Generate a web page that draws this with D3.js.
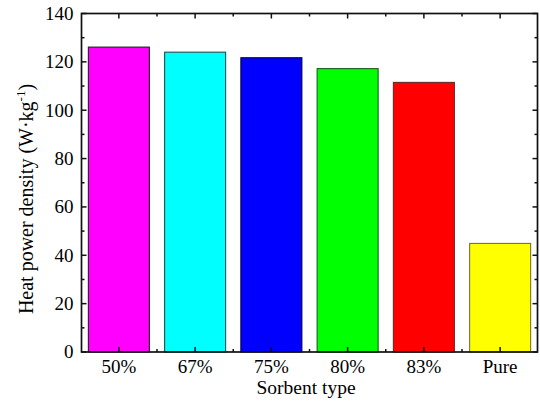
<!DOCTYPE html>
<html>
<head>
<meta charset="utf-8">
<script src="https://cdn.jsdelivr.net/npm/d3@7"></script>
<style>
  body { margin: 0; background: #fff; }
  text { font-family: "Liberation Serif", "Times New Roman", serif; fill: #000; }
</style>
</head>
<body>
<svg id="chart" width="540" height="407"></svg>
<script>
// data
const categories = ["50%", "67%", "75%", "80%", "83%", "Pure"];
const powerDensity = [126.1, 124.0, 121.7, 117.2, 111.5, 44.9];
const yTicks = [0, 20, 40, 60, 80, 100, 120, 140];
const yMinorTicks = [10, 30, 50, 70, 90, 110, 130];

const fillColors = ["#ff00ff", "#00ffff", "#0000ff", "#00ff00", "#ff0000", "#ffff00"];
const strokeColors = ["#202020", "#1f4f4f", "#000040", "#1f5a1f", "#6a2a2a", "#77772a"];

const svg = d3.select("#chart");
const plotLeft = 81.5, plotRight = 537.5, plotTop = 13.5, plotBottom = 352;

const x = d3.scaleBand()
    .domain(categories)
    .range([plotLeft, plotRight])
    .paddingInner(0.2)
    .paddingOuter(0.09);

const y = d3.scaleLinear()
    .domain([0, 140])
    .range([plotBottom, plotTop]);

// bars
svg.append("g").selectAll("rect")
    .data(categories)
    .enter().append("rect")
    .attr("x", d => x(d))
    .attr("width", x.bandwidth())
    .attr("y", (d, i) => y(powerDensity[i]))
    .attr("height", (d, i) => y(0) - y(powerDensity[i]))
    .attr("fill", (d, i) => fillColors[i])
    .attr("stroke", (d, i) => strokeColors[i])
    .attr("stroke-width", 1.1);

// x minor tick positions: boundaries between bands
const step = x.step();
const xMinor = categories.slice(1).map(d => x(d) - (step - x.bandwidth()) / 2);

const axisG = svg.append("g").attr("stroke", "#111").attr("stroke-width", 1.5).attr("fill", "none");

// y ticks (left and right, pointing inward)
yTicks.forEach(t => {
    axisG.append("line").attr("x1", plotLeft).attr("x2", plotLeft + 5).attr("y1", y(t)).attr("y2", y(t));
    axisG.append("line").attr("x1", plotRight).attr("x2", plotRight - 5).attr("y1", y(t)).attr("y2", y(t));
});
yMinorTicks.forEach(t => {
    axisG.append("line").attr("x1", plotLeft).attr("x2", plotLeft + 3).attr("y1", y(t)).attr("y2", y(t));
    axisG.append("line").attr("x1", plotRight).attr("x2", plotRight - 3).attr("y1", y(t)).attr("y2", y(t));
});

// x ticks (bottom and top, pointing inward)
categories.forEach(c => {
    const cx = x(c) + x.bandwidth() / 2;
    axisG.append("line").attr("x1", cx).attr("x2", cx).attr("y1", plotBottom).attr("y2", plotBottom - 5);
    axisG.append("line").attr("x1", cx).attr("x2", cx).attr("y1", plotTop).attr("y2", plotTop + 5);
});
xMinor.forEach(mx => {
    axisG.append("line").attr("x1", mx).attr("x2", mx).attr("y1", plotBottom).attr("y2", plotBottom - 3);
    axisG.append("line").attr("x1", mx).attr("x2", mx).attr("y1", plotTop).attr("y2", plotTop + 3);
});

// frame
axisG.append("rect")
    .attr("x", plotLeft).attr("y", plotTop)
    .attr("width", plotRight - plotLeft).attr("height", plotBottom - plotTop)
    .attr("stroke-width", 1.7);

// tick labels
svg.append("g").selectAll("text")
    .data(yTicks)
    .enter().append("text")
    .attr("x", plotLeft - 8)
    .attr("y", d => y(d))
    .attr("dy", "0.34em")
    .attr("text-anchor", "end")
    .attr("font-size", 19)
    .text(d => d);

svg.append("g").selectAll("text")
    .data(categories)
    .enter().append("text")
    .attr("x", d => x(d) + x.bandwidth() / 2)
    .attr("y", 373)
    .attr("text-anchor", "middle")
    .attr("font-size", 19)
    .text(d => d);

// axis titles
svg.append("text")
    .attr("x", 306)
    .attr("y", 394)
    .attr("text-anchor", "middle")
    .attr("font-size", 19.5)
    .text("Sorbent type");

const yTitle = svg.append("text")
    .attr("transform", "translate(33,199) rotate(-90)")
    .attr("text-anchor", "middle")
    .attr("font-size", 20);
yTitle.append("tspan").text("Heat power density (W\u00b7kg");
yTitle.append("tspan").attr("font-size", 13).attr("dy", -8).text("-1");
yTitle.append("tspan").attr("dy", 8).text(")");
</script>
</body>
</html>
